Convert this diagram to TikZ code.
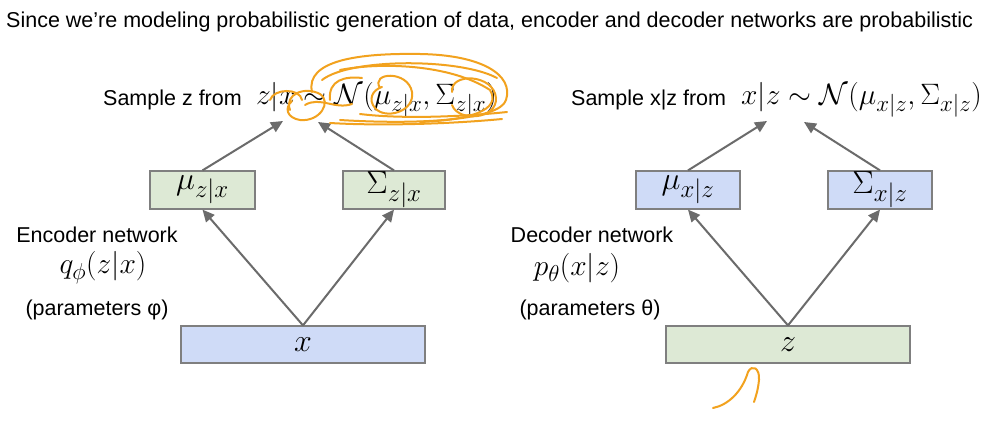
\documentclass[tikz,border=0pt]{standalone}
\usepackage{fix-cm}
\usepackage{fontspec}
\setmainfont{Liberation Sans}
\renewcommand\defaultscriptratio{.78}
\usetikzlibrary{arrows.meta}
\definecolor{boxgreen}{HTML}{DDE9D5}
\definecolor{boxblue}{HTML}{CFDBF7}
\definecolor{edgegray}{HTML}{7F7F7F}
\definecolor{arrowgray}{HTML}{6B6B6B}
\definecolor{scribble}{HTML}{F2A21E}
\tikzset{
  netbox/.style={draw=edgegray, line width=1.2pt, inner sep=0pt, font=\fontsize{32}{36}\selectfont},
  gbox/.style={netbox, fill=boxgreen},
  bbox/.style={netbox, fill=boxblue},
  conn/.style={draw=arrowgray, line width=2pt, -{Triangle[length=12pt,width=11pt]}},
  lbl/.style={inner sep=0pt, font=\fontsize{21.5}{24}\selectfont},
  mathlbl/.style={inner sep=0pt, font=\fontsize{29.5}{33}\selectfont},
  scrib/.style={draw=scribble, line width=2pt, line cap=round}
}
\begin{document}
\begin{tikzpicture}[x=1pt,y=-1pt]
\useasboundingbox (0,0) rectangle (989,422);
\fill[white] (0,0) rectangle (989,422);

\node[lbl, anchor=west] (title) at (6,22) {Since we’re modeling probabilistic generation of data, encoder and decoder networks are probabilistic};

% encoder side
\node[lbl, anchor=west] (samplez) at (103,100) {Sample z from};
\node[mathlbl, anchor=west] (fz) at (256,100) {$z|x \sim \mathcal{N}(\mu_{z|x}, \Sigma_{z|x})$};
\coordinate (tz1) at (283,121);
\coordinate (tz2) at (318,122);

\node[gbox, minimum width=105pt, minimum height=38pt] (muz) at (202.5,190) {$\mu_{z|x}$};
\node[gbox, minimum width=102pt, minimum height=38pt] (sz) at (394,190) {$\Sigma_{z|x}$};
\node[bbox, minimum width=244pt, minimum height=37pt] (xin) at (303,344.5) {$x$};

\draw[conn] (xin.north) -- (muz.south);
\draw[conn] (xin.north) -- (sz.south);
\draw[conn] (muz.north) -- (tz1);
\draw[conn] (sz.north) -- (tz2);

\node[lbl] (enc) at (97,235) {Encoder network};
\node[mathlbl] (q) at (103,268) {$q_\phi(z|x)$};
\node[lbl] (pphi) at (97,310) {(parameters φ)};

% decoder side
\node[lbl, anchor=west] (samplex) at (571,100) {Sample x|z from};
\node[mathlbl, anchor=west] (fx) at (741,100) {$x|z \sim \mathcal{N}(\mu_{x|z}, \Sigma_{x|z})$};
\coordinate (tx1) at (767,121);
\coordinate (tx2) at (804,122);

\node[bbox, minimum width=104pt, minimum height=38pt] (mux) at (688,190) {$\mu_{x|z}$};
\node[bbox, minimum width=104pt, minimum height=38pt] (sx) at (880,190) {$\Sigma_{x|z}$};
\node[gbox, minimum width=244pt, minimum height=37pt] (zin) at (788,344.5) {$z$};

\draw[conn] (zin.north) -- (mux.south);
\draw[conn] (zin.north) -- (sx.south);
\draw[conn] (mux.north) -- (tx1);
\draw[conn] (sx.north) -- (tx2);

\node[lbl] (dec) at (592,235) {Decoder network};
\node[mathlbl] (p) at (577,268) {$p_\theta(x|z)$};
\node[lbl] (ptheta) at (590,310) {(parameters θ)};

% hand-drawn orange annotations
\draw[scrib] (312,92) .. controls (305,60) and (360,53) .. (420,54) .. controls (482,55) and (514,75) .. (506,100) .. controls (500,120) and (420,125) .. (340,120);
\draw[scrib] (322,80) .. controls (350,58) and (460,58) .. (497,78);
\draw[scrib] (340,70) .. controls (380,62) and (450,64) .. (490,90) .. controls (502,110) and (470,120) .. (420,122);
\draw[scrib] (330,100) .. controls (328,80) and (345,76) .. (362,78);
\draw[scrib] (380,88) .. controls (370,72) and (408,70) .. (412,92) .. controls (415,112) and (385,120) .. (375,108) .. controls (368,100) and (372,90) .. (382,87);
\draw[scrib] (452,92) .. controls (450,72) and (494,74) .. (496,98) .. controls (497,120) and (458,122) .. (452,105);
\draw[scrib] (290,110) .. controls (284,94) and (305,86) .. (320,94) .. controls (332,102) and (320,122) .. (300,120) .. controls (287,118) and (284,108) .. (292,101);
\draw[scrib] (270,100) .. controls (274,88) and (300,88) .. (302,100);
\draw[scrib] (305,105) .. controls (320,96) and (335,110) .. (352,104);
\draw[scrib] (360,114) .. controls (400,119) and (460,117) .. (507,112);
\draw[scrib] (330,123) .. controls (380,126) and (450,124) .. (502,119);
\draw[scrib] (713,408) .. controls (728,405) and (742,392) .. (748,372) .. controls (752,364) and (760,368) .. (759,380) .. controls (758,390) and (756,396) .. (754,402);
\end{tikzpicture}
\end{document}
